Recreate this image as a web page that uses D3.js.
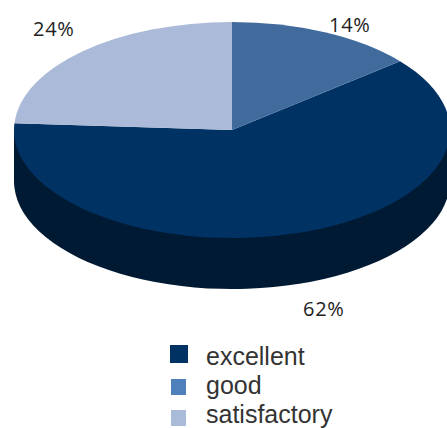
<!DOCTYPE html>
<html>
<head>
<meta charset="utf-8">
<style>
html, body { margin: 0; padding: 0; background: #fff; overflow: hidden; }
svg { display: block; }
</style>
<script src="https://cdn.jsdelivr.net/npm/d3@7"></script>
</head>
<body>
<svg id="chart" width="447" height="428"></svg>
<script>
// legend order
var categories = ['excellent', 'good', 'satisfactory'];
var values = [62, 14, 24];
var labels = ['62%', '14%', '24%'];
// clockwise from 12 o'clock
var sliceOrder = ['good', 'excellent', 'satisfactory'];

var topColors = ['#003264', '#416b9d', '#abbad8'];
var legendColors = ['#003264', '#4f80bc', '#aabbd9'];
var wallColor = '#001a33';

var cx = 232, cy = 130, rx = 218, ry = 108, depth = 51;
var labelPos = [[303, 316], [329, 32], [33, 36]];
var legendY = [365, 394, 423];
var swatch = [[170, 345, 18, 18], [171, 379, 15, 16], [171, 410, 15, 16]];

var data = categories.map(function(c, i) {
  return { name: c, value: values[i], color: topColors[i], label: labels[i], pos: labelPos[i] };
});

var svg = d3.select('#chart');

var pie = d3.pie()
  .value(function(d) { return d.value; })
  .sort(function(a, b) { return sliceOrder.indexOf(a.name) - sliceOrder.indexOf(b.name); });
var arc = d3.arc().innerRadius(0).outerRadius(ry);
var slices = pie(data);

// everything is drawn as a circle of radius ry and squashed into the ellipse
var squash = 'scale(' + (rx / ry) + ',1)';

// side wall, only the big slice shows it
var wall = svg.append('g').attr('transform', 'translate(' + cx + ',' + cy + ') ' + squash);
wall.append('rect')
  .attr('x', -ry).attr('y', 0)
  .attr('width', ry * 2).attr('height', depth)
  .attr('fill', wallColor);
wall.append('path')
  .datum(slices.filter(function(s) { return s.data.name == 'excellent'; })[0])
  .attr('transform', 'translate(0,' + depth + ')')
  .attr('d', arc)
  .attr('fill', wallColor);

// top face
svg.append('g').attr('transform', 'translate(' + cx + ',' + cy + ') ' + squash)
  .selectAll('path').data(slices).enter().append('path')
  .attr('d', arc)
  .attr('fill', function(d) { return d.data.color; });

// percentages
svg.selectAll('text.pct').data(data).enter().append('text')
  .attr('class', 'pct')
  .attr('x', function(d) { return d.pos[0]; })
  .attr('y', function(d) { return d.pos[1]; })
  .attr('font-family', '"Open Sans", sans-serif')
  .attr('font-size', 20)
  .attr('letter-spacing', 0.7)
  .attr('fill', '#222')
  .text(function(d) { return d.label; });

// legend
var legend = svg.selectAll('g.legend').data(categories).enter().append('g').attr('class', 'legend');
legend.append('rect')
  .attr('x', function(d, i) { return swatch[i][0]; })
  .attr('y', function(d, i) { return swatch[i][1]; })
  .attr('width', function(d, i) { return swatch[i][2]; })
  .attr('height', function(d, i) { return swatch[i][3]; })
  .attr('fill', function(d, i) { return legendColors[i]; });
legend.append('text')
  .attr('x', 206)
  .attr('y', function(d, i) { return legendY[i]; })
  .attr('font-family', '"Liberation Sans", Arial, sans-serif')
  .attr('font-size', 25)
  .attr('fill', '#333')
  .text(function(d) { return d; });
</script>
</body>
</html>
